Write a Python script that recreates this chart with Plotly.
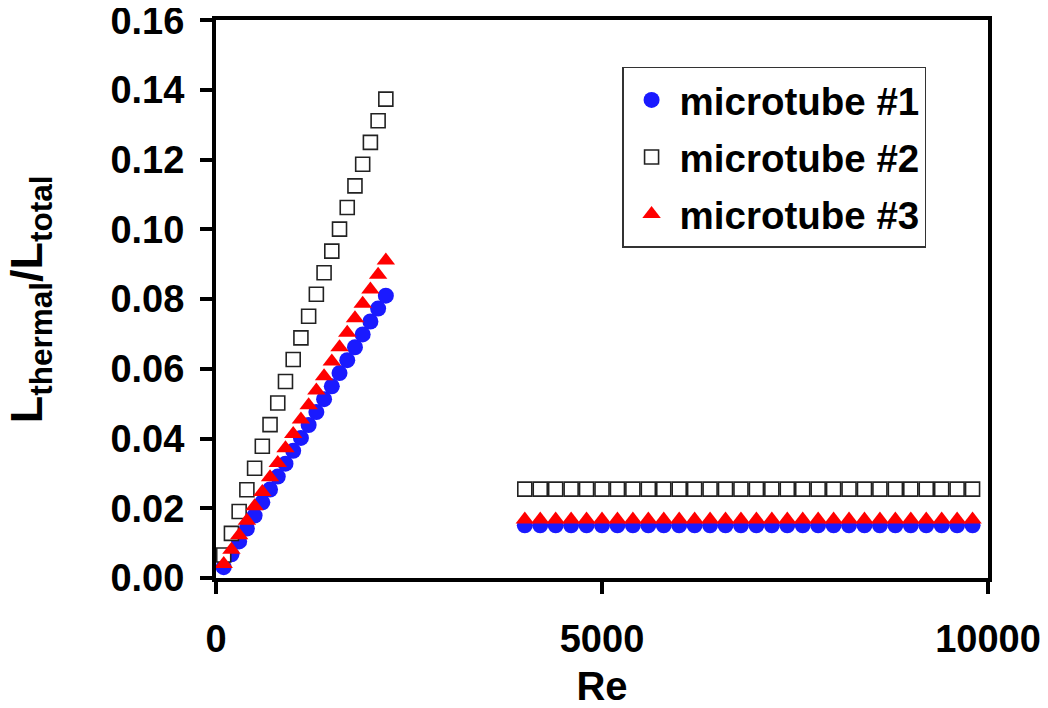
import plotly.graph_objects as go

# ---- data ----
re_laminar = [100, 200, 300, 400, 500, 600, 700, 800, 900, 1000, 1100,
              1200, 1300, 1400, 1500, 1600, 1700, 1800, 1900, 2000, 2100, 2200]
re_turbulent = [4000, 4200, 4400, 4600, 4800, 5000, 5200, 5400, 5600, 5800,
                6000, 6200, 6400, 6600, 6800, 7000, 7200, 7400, 7600, 7800,
                8000, 8200, 8400, 8600, 8800, 9000, 9200, 9400, 9600, 9800]

tube1_laminar = [0.0031, 0.0068, 0.0105, 0.0142, 0.0179, 0.0217, 0.0254, 0.0291,
                 0.0328, 0.0365, 0.0402, 0.0439, 0.0476, 0.0513, 0.0550, 0.0588,
                 0.0625, 0.0662, 0.0699, 0.0736, 0.0773, 0.0810]
tube2_laminar = [0.0066, 0.0128, 0.0191, 0.0253, 0.0315, 0.0378, 0.0440, 0.0502,
                 0.0564, 0.0627, 0.0689, 0.0751, 0.0814, 0.0876, 0.0938, 0.1001,
                 0.1063, 0.1125, 0.1187, 0.1250, 0.1312, 0.1374]
tube3_laminar = [0.0040, 0.0081, 0.0123, 0.0164, 0.0206, 0.0247, 0.0289, 0.0330,
                 0.0372, 0.0413, 0.0455, 0.0496, 0.0538, 0.0579, 0.0621, 0.0662,
                 0.0704, 0.0745, 0.0787, 0.0828, 0.0870, 0.0911]

tube1_turbulent = [0.0151, 0.0151, 0.0151, 0.0151, 0.0151, 0.0151, 0.0151, 0.0151,
                   0.0151, 0.0151, 0.0151, 0.0151, 0.0151, 0.0151, 0.0151, 0.0151,
                   0.0151, 0.0151, 0.0151, 0.0151, 0.0151, 0.0151, 0.0151, 0.0151,
                   0.0151, 0.0151, 0.0151, 0.0151, 0.0151, 0.0151]
tube2_turbulent = [0.0255, 0.0255, 0.0255, 0.0255, 0.0255, 0.0255, 0.0255, 0.0255,
                   0.0255, 0.0255, 0.0255, 0.0255, 0.0255, 0.0255, 0.0255, 0.0255,
                   0.0255, 0.0255, 0.0255, 0.0255, 0.0255, 0.0255, 0.0255, 0.0255,
                   0.0255, 0.0255, 0.0255, 0.0255, 0.0255, 0.0255]
tube3_turbulent = [0.0168, 0.0168, 0.0168, 0.0168, 0.0168, 0.0168, 0.0168, 0.0168,
                   0.0168, 0.0168, 0.0168, 0.0168, 0.0168, 0.0168, 0.0168, 0.0168,
                   0.0168, 0.0168, 0.0168, 0.0168, 0.0168, 0.0168, 0.0168, 0.0168,
                   0.0168, 0.0168, 0.0168, 0.0168, 0.0168, 0.0168]

series_names = ["microtube #1", "microtube #2", "microtube #3"]
x_ticks = [0, 5000, 10000]
y_ticks = [0.00, 0.02, 0.04, 0.06, 0.08, 0.10, 0.12, 0.14, 0.16]

FONT = "Liberation Sans, Arial, sans-serif"

fig = go.Figure()

re_all = re_laminar + re_turbulent

fig.add_trace(go.Scatter(
    x=re_all, y=tube1_laminar + tube1_turbulent, mode="markers",
    name=series_names[0], legendgroup="g1",
    marker=dict(symbol="circle", size=16, color="#1a1aff", line=dict(width=0)),
))
fig.add_trace(go.Scatter(
    x=re_all, y=tube2_laminar + tube2_turbulent, mode="markers",
    name=series_names[1], legendgroup="g2",
    marker=dict(symbol="square", size=14, color="white",
                line=dict(width=1.6, color="#222222")),
))
fig.add_trace(go.Scatter(
    x=re_all, y=tube3_laminar + tube3_turbulent, mode="markers",
    name=series_names[2], legendgroup="g3",
    marker=dict(symbol="triangle-up", size=16, color="#ff0000", line=dict(width=0)),
))

axis_common = dict(
    showline=True, linewidth=4, linecolor="black", mirror=True,
    ticks="outside", ticklen=12, tickwidth=4, tickcolor="black",
    showgrid=False, zeroline=False, automargin=False,
    ticklabeloverflow="allow",
    tickfont=dict(family=FONT, size=38, color="black", weight="bold"),
)

# the page body adds an 8px offset, so the figure is shifted 8px up/left
fig.update_layout(
    width=1032, height=700,
    margin=dict(l=208, r=52, t=12, b=130, autoexpand=False),
    paper_bgcolor="white", plot_bgcolor="white",
    showlegend=True,
    legend=dict(
        x=0.526, y=0.916, xanchor="left", yanchor="top",
        bgcolor="white", bordercolor="#333333", borderwidth=1.5,
        font=dict(family=FONT, size=38.5, color="black", weight="bold"),
        tracegroupgap=4, itemwidth=46, traceorder="grouped",
    ),
    xaxis=dict(
        range=[0, 10000], tickvals=x_ticks, ticktext=[str(v) for v in x_ticks],
        ticklabelstandoff=12,
        title=dict(text="Re", font=dict(family=FONT, size=40, color="black", weight="bold"),
                   standoff=24),
        **axis_common,
    ),
    yaxis=dict(
        range=[0, 0.1601], tickvals=y_ticks, ticktext=[f"{v:.2f}" for v in y_ticks],
        ticklabelstandoff=8,
        **axis_common,
    ),
    annotations=[dict(
        text="L<sub>thermal</sub>/L<sub>total</sub>",
        xref="paper", yref="paper", x=-0.242, y=0.5,
        xanchor="center", yanchor="middle", textangle=-90, showarrow=False,
        font=dict(family=FONT, size=45, color="black", weight="bold"),
    )],
)

fig.write_html("out.html")
